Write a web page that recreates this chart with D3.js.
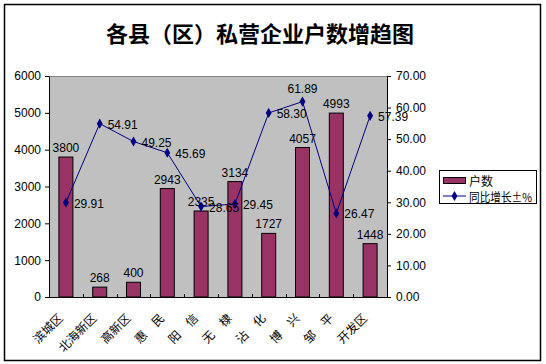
<!DOCTYPE html>
<html>
<head>
<meta charset="utf-8">
<script src="https://cdn.jsdelivr.net/npm/d3@7"></script>
<style>
  body { margin: 0; background: #fff; }
  text { font-family: "Liberation Sans", Arial, sans-serif; }
  .cjk { font-family: "Noto Sans CJK SC", sans-serif; }
</style>
</head>
<body>
<svg id="chart" width="546" height="364"></svg>
<script>
// chart values
const counties = ["滨城区", "北海新区", "高新区", "惠　民", "阳　信", "无　棣", "沾　化", "博　兴", "邹　平", "开发区"];
const households = [3800, 268, 400, 2943, 2335, 3134, 1727, 4057, 4993, 1448];
const growth = [29.91, 54.91, 49.25, 45.69, 28.65, 29.45, 58.30, 61.89, 26.47, 57.39];
const leftTicks = [0, 1000, 2000, 3000, 4000, 5000, 6000];
const rightTicks = [0, 10, 20, 30, 40, 50, 60, 70];
// where each growth label goes relative to its point
const growthLabelSide = ["right", "right", "right", "right", "right", "right", "right", "above", "right", "right"];

const svg = d3.select("#chart");

// outer frame
svg.append("rect")
  .attr("x", 4.5).attr("y", 4.5)
  .attr("width", 536).attr("height", 356)
  .attr("fill", "#fff").attr("stroke", "#000").attr("stroke-width", 1.5);

// title
svg.append("text")
  .attr("class", "cjk")
  .attr("x", 260).attr("y", 32)
  .attr("text-anchor", "middle").attr("dominant-baseline", "central")
  .attr("font-size", 22).attr("font-weight", "bold")
  .text("各县（区）私营企业户数增趋图");

// plot area
const plot = { left: 49, right: 387, top: 76, bottom: 297 };

const x = d3.scaleBand()
  .domain(counties)
  .range([plot.left, plot.right]);

const yLeft = d3.scaleLinear().domain([0, 6000]).range([plot.bottom, plot.top]);
const yRight = d3.scaleLinear().domain([0, 70]).range([plot.bottom, plot.top]);

svg.append("rect")
  .attr("x", plot.left).attr("y", plot.top)
  .attr("width", plot.right - plot.left).attr("height", plot.bottom - plot.top)
  .attr("fill", "#c0c0c0");

svg.append("line")
  .attr("x1", plot.left).attr("x2", plot.right)
  .attr("y1", plot.top + 0.5).attr("y2", plot.top + 0.5)
  .attr("stroke", "#808080");

// bars
const barW = 14;
svg.selectAll(".bar")
  .data(households)
  .enter()
  .append("rect")
  .attr("class", "bar")
  .attr("x", (d, i) => x(counties[i]) + x.bandwidth() / 2 - barW / 2)
  .attr("y", (d) => yLeft(d))
  .attr("width", barW)
  .attr("height", (d) => plot.bottom - yLeft(d))
  .attr("fill", "#993366")
  .attr("stroke", "#000")
  .attr("stroke-width", 1);

// bar labels
svg.selectAll(".barLabel")
  .data(households)
  .enter()
  .append("text")
  .attr("x", (d, i) => x(counties[i]) + x.bandwidth() / 2)
  .attr("y", (d) => yLeft(d) - 5)
  .attr("text-anchor", "middle")
  .attr("font-size", 12)
  .text((d) => d);

// axes
const leftAxis = d3.axisLeft(yLeft).tickValues(leftTicks).tickSize(4).tickSizeOuter(0).tickFormat(d3.format("d"));
const gl = svg.append("g").attr("transform", "translate(" + plot.left + ",0)").call(leftAxis);
gl.selectAll("text").attr("font-size", 12).attr("font-family", "Liberation Sans, Arial").attr("fill", "#000").attr("x", -8);

const rightAxis = d3.axisRight(yRight).tickValues(rightTicks).tickSize(4).tickSizeOuter(0).tickFormat(d3.format(".2f"));
const gr = svg.append("g").attr("transform", "translate(" + plot.right + ",0)").call(rightAxis);
gr.selectAll("text").attr("font-size", 12).attr("font-family", "Liberation Sans, Arial").attr("fill", "#000").attr("x", 9);

[gl, gr].forEach((g) => {
  g.select(".domain").attr("stroke", "#000");
  g.selectAll("line").attr("stroke", "#000");
});

// bottom axis with ticks between categories
svg.append("line")
  .attr("x1", plot.left).attr("x2", plot.right)
  .attr("y1", plot.bottom + 0.5).attr("y2", plot.bottom + 0.5)
  .attr("stroke", "#000");
svg.selectAll(".xTick")
  .data(counties.slice(1))
  .enter()
  .append("line")
  .attr("x1", (d) => Math.round(x(d)) + 0.5)
  .attr("x2", (d) => Math.round(x(d)) + 0.5)
  .attr("y1", plot.bottom)
  .attr("y2", plot.bottom - 3)
  .attr("stroke", "#000");

// category labels, rotated
svg.selectAll(".xLabel")
  .data(counties)
  .enter()
  .append("text")
  .attr("class", "cjk")
  .attr("font-size", 12)
  .attr("text-anchor", "end")
  .attr("dominant-baseline", "central")
  .attr("transform", (d) => "translate(" + (x(d) + x.bandwidth() / 2 - 6) + "," + (plot.bottom + 18) + ") rotate(-45)")
  .text((d) => d);

// growth line
const cx = (i) => x(counties[i]) + x.bandwidth() / 2;
const line = d3.line().x((d, i) => cx(i)).y((d) => yRight(d));

svg.append("path")
  .datum(growth)
  .attr("d", line)
  .attr("fill", "none")
  .attr("stroke", "#000080")
  .attr("stroke-width", 1);

const diamond = d3.symbol().type(d3.symbolDiamond).size(30);
svg.selectAll(".pt")
  .data(growth)
  .enter()
  .append("path")
  .attr("d", diamond)
  .attr("transform", (d, i) => "translate(" + cx(i) + "," + yRight(d) + ")")
  .attr("fill", "#000080");

svg.selectAll(".growthLabel")
  .data(growth)
  .enter()
  .append("text")
  .attr("font-size", 12)
  .attr("dominant-baseline", "central")
  .attr("text-anchor", (d, i) => growthLabelSide[i] === "above" ? "middle" : "start")
  .attr("x", (d, i) => growthLabelSide[i] === "above" ? cx(i) : cx(i) + 8)
  .attr("y", (d, i) => growthLabelSide[i] === "above" ? yRight(d) - 13 : yRight(d) + 1)
  .text((d) => d.toFixed(2));

// legend
const legend = svg.append("g").attr("transform", "translate(439,170)");
legend.append("rect")
  .attr("x", 0.5).attr("y", 0.5)
  .attr("width", 97).attr("height", 33)
  .attr("fill", "#fff").attr("stroke", "#000");
legend.append("rect")
  .attr("x", 4.5).attr("y", 7.5)
  .attr("width", 22).attr("height", 6)
  .attr("fill", "#993366").attr("stroke", "#000");
legend.append("text")
  .attr("class", "cjk")
  .attr("x", 30).attr("y", 10)
  .attr("font-size", 12).attr("dominant-baseline", "central")
  .text("户数");
legend.append("line")
  .attr("x1", 4).attr("x2", 27)
  .attr("y1", 26).attr("y2", 26)
  .attr("stroke", "#000080");
legend.append("path")
  .attr("d", diamond)
  .attr("transform", "translate(15.5,26)")
  .attr("fill", "#000080");
legend.append("text")
  .attr("class", "cjk")
  .attr("x", 30).attr("y", 26)
  .attr("font-size", 12).attr("dominant-baseline", "central")
  .attr("textLength", 63).attr("lengthAdjust", "spacingAndGlyphs")
  .text("同比增长±%");
</script>
</body>
</html>
